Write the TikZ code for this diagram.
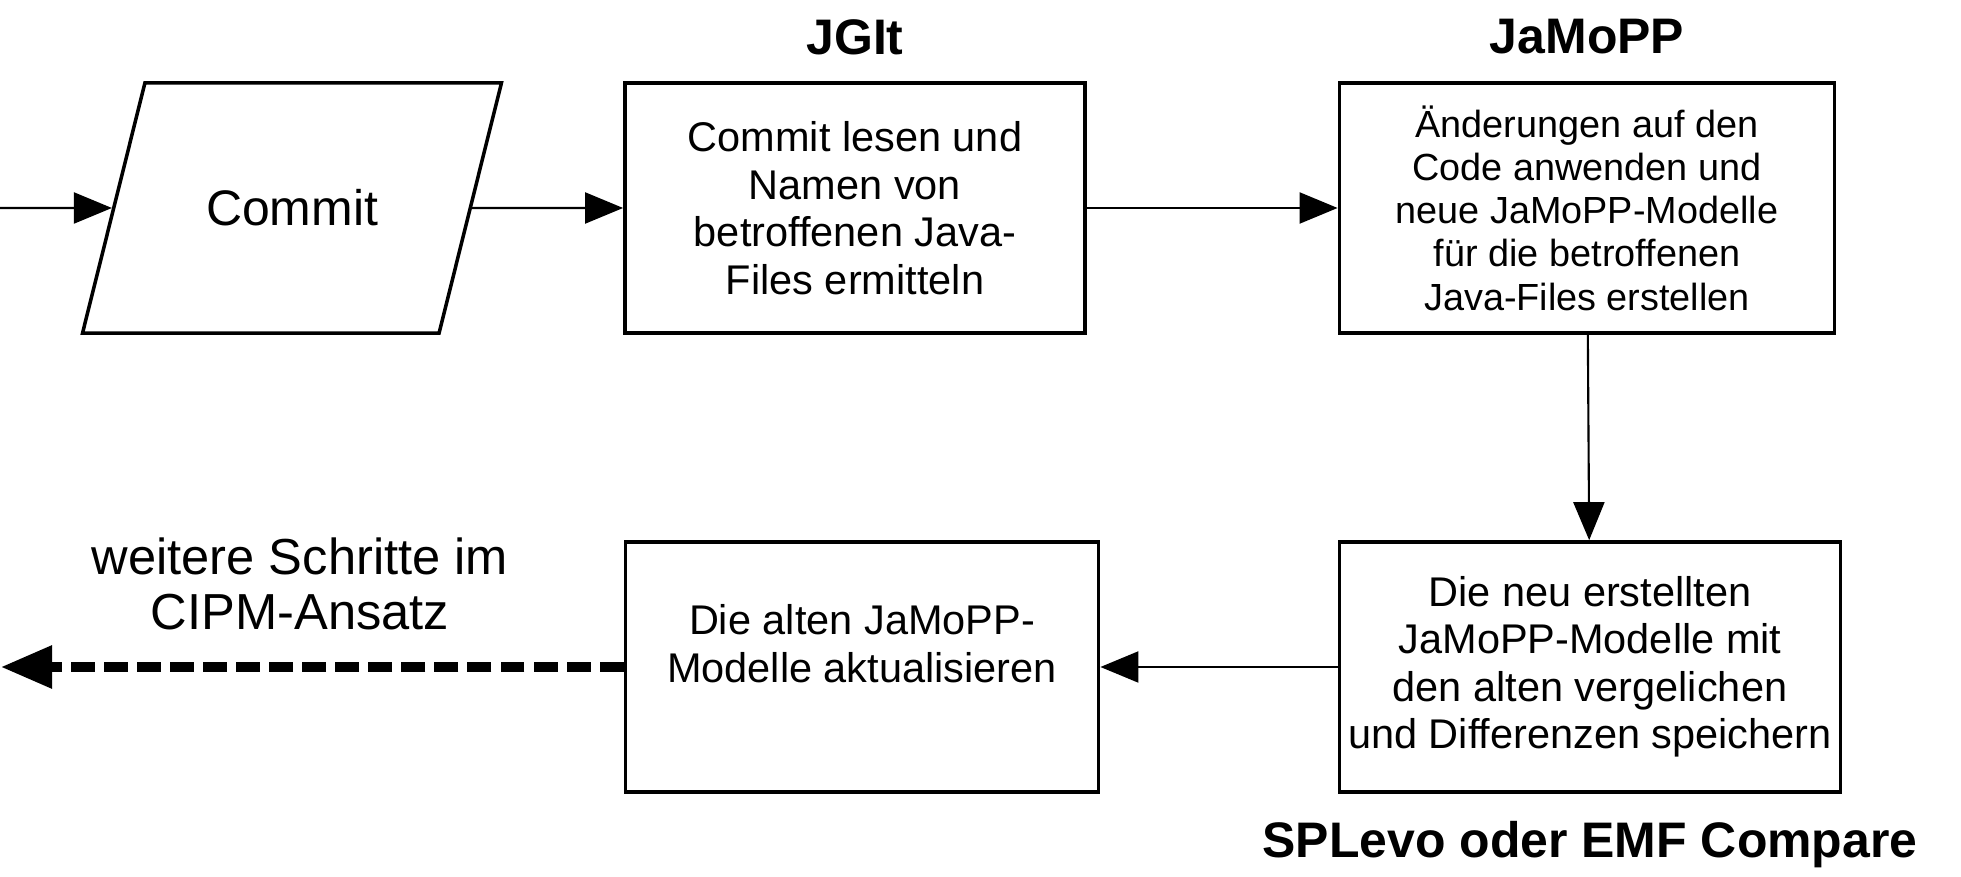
\documentclass[tikz,border=0pt]{standalone}
\usepackage{fontspec}
\setmainfont{Liberation Sans}
\usetikzlibrary{arrows.meta,shapes.geometric}
\begin{document}
\begin{tikzpicture}[x=.01cm, y=-.01cm,
  box/.style={draw, line width=1pt, inner sep=0pt, minimum height=2.5cm, align=center, font=\fontsize{11.8}{13.5}\selectfont},
  io/.style={draw, line width=1pt, trapezium, trapezium left angle=76, trapezium right angle=104, inner sep=0pt, text width=2.94cm, text height=1.43cm, text depth=1.07cm, align=center, font=\fontsize{14.2}{17}\selectfont},
  tool/.style={font=\fontsize{14.2}{17}\selectfont\bfseries},
  arr/.style={-{Triangle[length=3.8mm, width=3.1mm]}, line width=.6pt},
  further/.style={-{Triangle[length=5.1mm, width=4.1mm]}, line width=2.6pt, dash pattern=on 6.8pt off 2.6pt}]
	\useasboundingbox (0,0) rectangle (1961,877);
	\node[io]                       (commit) at (292,208)  {Commit};
	\node[box, minimum width=4.6cm]  (jgit)   at (855,208)  {Commit lesen und\\Namen von\\betroffenen Java-\\Files ermitteln};
	\node[box, minimum width=4.95cm, font=\fontsize{10.75}{12.3}\selectfont] (jamopp) at (1587,208) {Änderungen auf den\\Code anwenden und\\neue JaMoPP-Modelle\\für die betroffenen\\Java-Files erstellen};
	\node[box, minimum width=5.01cm] (vergl)  at (1590,667) {Die neu erstellten\\JaMoPP-Modelle mit\\den alten vergelichen\\und Differenzen speichern};
	\node[box, minimum width=4.73cm] (aktual) at (862,667)  {Die alten JaMoPP-\\Modelle aktualisieren\\~};
	\node[tool] (jgitlbl)   at (855,37)   {JGIt};
	\node[tool] (jamopplbl) at (1587,37)  {JaMoPP};
	\node[tool] (splevo)    at (1590,845) {SPLevo oder EMF Compare};
	\node[align=center, font=\fontsize{14.4}{15.8}\selectfont] (cipm) at (300,584) {weitere Schritte im\\CIPM-Ansatz};
	\coordinate (start) at (0,208);
	\coordinate (exit)  at (1,667);
	\draw[arr]     (start)  -- (commit);
	\draw[arr]     (commit) -- (jgit);
	\draw[arr]     (jgit)   -- (jamopp);
	\draw[arr]     (jamopp) -- (vergl);
	\draw[arr]     (vergl)  -- (aktual);
	\draw[further] (aktual) -- (exit);
\end{tikzpicture}
\end{document}
